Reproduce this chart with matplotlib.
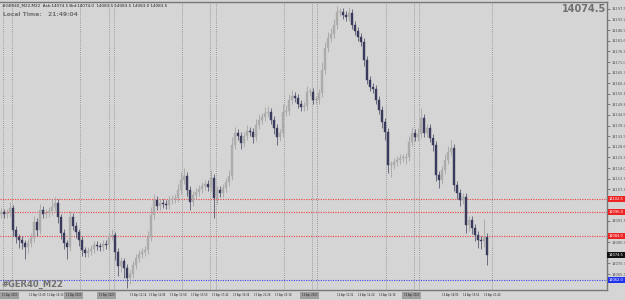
import matplotlib
matplotlib.use("Agg")
import matplotlib.pyplot as plt
from matplotlib.patches import Rectangle

# closes of each M22 candle (price)
closes = [14096, 14095, 14095.5, 14098, 14087, 14083.5, 14082, 14080.5, 14078.5, 14080.5,
          14083, 14091, 14087, 14097, 14095, 14095.5, 14096.5, 14098.5, 14100.5, 14093.5,
          14085.5, 14080.5, 14078.5, 14093.5, 14089, 14086, 14082, 14077, 14075.5, 14076.5,
          14077.5, 14079.5, 14079, 14078.5, 14080, 14079.5, 14084, 14084.5, 14076, 14069,
          14071.5, 14068, 14063, 14065, 14069.5, 14073, 14075, 14076, 14077, 14083.5,
          14094.5, 14102, 14099, 14100.5, 14100, 14099.5, 14102, 14102.5, 14103, 14107,
          14112, 14114, 14107, 14101, 14104.5, 14106, 14107.5, 14109, 14110, 14108.5,
          14113, 14103, 14107, 14105.5, 14108, 14111, 14114, 14129.5, 14135.5, 14134,
          14130.5, 14134, 14136.5, 14136, 14133.5, 14139.5, 14142, 14143.5, 14145.5, 14146,
          14142, 14138, 14133.5, 14135.5, 14146, 14146.5, 14152, 14154, 14153, 14150,
          14148.5, 14149, 14156, 14156, 14152, 14152, 14155.5, 14167, 14178, 14183,
          14185, 14189.5, 14196, 14196, 14194.5, 14193.5, 14195.5, 14189.5, 14186.5, 14183.5,
          14181, 14172, 14162, 14158.5, 14157.5, 14152, 14147, 14141, 14136, 14119.5,
          14119.5, 14121, 14122, 14123, 14123, 14123.5, 14131, 14135.5, 14133.5, 14135,
          14143, 14135.5, 14138, 14133, 14129.5, 14114.5, 14112, 14117, 14122, 14126,
          14128, 14109.5, 14105.5, 14102, 14103.5, 14089.5, 14092, 14088, 14084.5, 14082,
          14081.5, 14083.5, 14074.5]
first_open = 14095
hi_ext = [2, 1.5, 2, 3, 1.5, 2, 1.5, 2, 1.5, 2, 2.5, 3, 2, 3, 2, 2, 2, 4, 3, 2,
          1.5, 2, 1.5, 3, 2, 2, 1.5, 2, 1.5, 2, 2, 2, 2, 1.5, 2, 2, 2, 3, 1.5, 2,
          2, 1.5, 2, 2, 2, 2, 2, 2, 2, 3, 4, 3, 2, 2, 2, 2, 2, 2, 2, 3,
          4, 4, 2, 2, 2, 2, 2, 2, 2, 2, 4, 2, 2, 2, 2, 2, 3, 4, 3, 2,
          2, 2, 3, 2, 2, 3, 3, 2, 3, 3, 2, 2, 2, 2, 4, 3, 3, 3, 2, 2,
          2, 2, 3, 2, 2, 2, 2, 4, 3, 3, 3, 3, 3, 2, 2, 2, 3, 2, 2, 2,
          2, 2, 2, 2, 2, 2, 2, 2, 2, 2, 2, 2, 2, 2, 2, 2, 3, 3, 2, 3,
          5, 2, 2, 2, 2, 2, 2, 2, 3, 3, 4, 2, 2, 2, 2, 2, 2, 2, 2, 2,
          2, 9, 2]
lo_ext = [2, 2, 2, 2, 3, 3, 4, 3, 6, 3, 2, 2, 3, 2, 2, 2, 2, 2, 2, 3,
          3, 3, 6, 2, 2, 3, 3, 3, 2, 2, 2, 2, 2, 2, 2, 2, 2, 2, 4, 5,
          3, 5, 5, 3, 2, 2, 2, 2, 2, 2, 2, 2, 2, 2, 2, 2, 2, 2, 2, 2,
          2, 2, 3, 4, 2, 2, 2, 2, 2, 2, 2, 10, 3, 2, 2, 2, 2, 2, 2, 2,
          3, 2, 2, 2, 3, 2, 2, 2, 2, 2, 2, 3, 4, 2, 2, 2, 2, 2, 2, 2,
          2, 2, 2, 2, 2, 2, 2, 2, 2, 2, 2, 2, 2, 2, 2, 2, 2, 2, 2, 2,
          2, 3, 2, 2, 2, 2, 2, 3, 4, 4, 6, 2, 2, 2, 2, 3, 2, 2, 2, 2,
          2, 2, 2, 2, 3, 3, 4, 2, 2, 2, 2, 3, 3, 3, 2, 4, 3, 3, 3, 4,
          4, 3, 5]

red_levels = [14102.5, 14096.0, 14084.0]
red_labels = ["14102.5", "14096.0", "14084.0"]
blue_level = 14062.0
blue_label = "14062.0"
current_price = 14074.5
separators = [0.7, 3.7, 26.3, 36, 37.7, 60.3, 69.7, 71.7, 94.3, 103.7, 105.3, 128.3, 137.7, 139.3, 163.7]
ytick_vals = [14197.5, 14192.2, 14186.9, 14181.6, 14176.3, 14171.0, 14165.7, 14160.4, 14155.1,
              14149.8, 14144.5, 14139.2, 14133.9, 14128.6, 14123.3, 14118.0, 14112.7, 14107.4,
              14102.1, 14096.8, 14091.5, 14086.2, 14080.9, 14075.6, 14070.3, 14065.0, 14059.7]
time_labels = ["12 Apr 2023", "12 Apr 13:40", "12 Apr 15:32", "12 Apr 2023", "13 Apr 2023",
               "13 Apr 10:14", "13 Apr 12:06", "13 Apr 13:58", "13 Apr 15:50", "13 Apr 17:42",
               "13 Apr 19:34", "13 Apr 21:26", "13 Apr 23:18", "14 Apr 2023", "14 Apr 10:32",
               "14 Apr 12:24", "14 Apr 14:16", "14 Apr 2023", "14 Apr 18:00", "14 Apr 19:52",
               "14 Apr 21:44"]
time_px = [0, 27, 45, 64, 97, 128, 147, 168, 189, 210, 231, 252, 273,
           300, 335, 356, 377, 402, 440, 461, 482]

BG = "#d5d5d5"
fig = plt.figure(figsize=(6.25, 3.0), dpi=100, facecolor=BG)
ax = fig.add_axes([0, 10 / 300, 607 / 625, 288 / 300], facecolor=BG)

ax.set_xlim(-0.33, 202)
ax.set_ylim(14202 - 290 / 2, 14202 - 2 / 2)

for s in separators:
    ax.axvline(s, color="#888888", lw=0.6, ls=(0, (1, 1.5)), zorder=1)

for lv in red_levels:
    ax.axhline(lv, color="#f04040", lw=0.8, ls=(0, (1, 1.2)), zorder=1)
ax.axhline(blue_level, color="#4040f0", lw=0.8, ls=(0, (1, 1.2)), zorder=1)

opens = [first_open] + closes[:-1]
for i, (o, c) in enumerate(zip(opens, closes)):
    hi = max(o, c) + hi_ext[i]
    lo = min(o, c) - lo_ext[i]
    bull = c >= o
    body_col = "#acacac" if bull else "#3a3a5c"
    wick_col = "#a4a4a4" if bull else "#5a5a74"
    ax.plot([i, i], [lo, hi], color=wick_col, lw=0.6, zorder=2, solid_capstyle="butt")
    h = abs(c - o)
    if h < 0.3:
        h = 0.3
    ax.add_patch(Rectangle((i - 0.3, min(o, c)), 0.6, h, facecolor=body_col,
                           edgecolor=body_col, lw=0.3, zorder=3))

ax.spines["left"].set_visible(False)
for sp in ["right", "bottom", "top"]:
    ax.spines[sp].set_color("#777777")
    ax.spines[sp].set_linewidth(1.0)

tags = red_levels + [blue_level, current_price]
shown = [v for v in ytick_vals if all(abs(v - t) > 2.6 for t in tags)]
ax.yaxis.tick_right()
ax.set_yticks(shown)
ax.set_yticklabels([f"{v:.1f}" for v in shown], fontsize=2.6, color="#333333")
ax.tick_params(axis="y", length=2, width=0.5, pad=1, colors="#555555")
ax.set_xticks([])

# right price tags
trans = ax.get_yaxis_transform()
for lv, lab in zip(red_levels, red_labels):
    ax.text(1.003, lv, lab, transform=trans, fontsize=2.6, color="white", va="center", ha="left",
            bbox=dict(boxstyle="square,pad=0.25", fc="#ee2222", ec="none"), clip_on=False)
ax.text(1.003, blue_level, blue_label, transform=trans, fontsize=2.6, color="white", va="center",
        ha="left", bbox=dict(boxstyle="square,pad=0.25", fc="#2233ee", ec="none"), clip_on=False)
ax.text(1.003, current_price, f"{current_price:.1f}", transform=trans, fontsize=2.6, color="white",
        va="center", ha="left", bbox=dict(boxstyle="square,pad=0.4", fc="#111111", ec="none"),
        clip_on=False)

# texts
fig.text(2 / 625, 1 - 5 / 300, "#GER40_M22,M22  Ask:14074.5 Bid:14074.0  14083.5 14083.5 14083.0 14083.5",
         fontsize=3, color="#222222", va="center", ha="left")
fig.text(3 / 625, 1 - 15 / 300, "Local Time:   21:49:04", fontsize=4.3, color="#707070",
         fontweight="bold", va="center", ha="left")
fig.text(606 / 625, 1 - 9 / 300, "14074.5", fontsize=7, color="#707070", fontweight="bold",
         va="center", ha="right")
fig.text(1 / 625, 1 - 284 / 300, "#GER40_M22", fontsize=6, color="#707070", fontweight="bold",
         va="center", ha="left")

# time axis
for p, lab in zip(time_px, time_labels):
    boxed = "2023" in lab
    ax.text((p + 1) / 3, -0.012, lab, transform=ax.get_xaxis_transform(), fontsize=1.8,
            color="#222222", va="top", ha="left",
            bbox=dict(boxstyle="square,pad=0.6", fc="#a0a0a0", ec="none") if boxed else None,
            clip_on=False)

fig.savefig("out.png", dpi=100, facecolor=BG)
